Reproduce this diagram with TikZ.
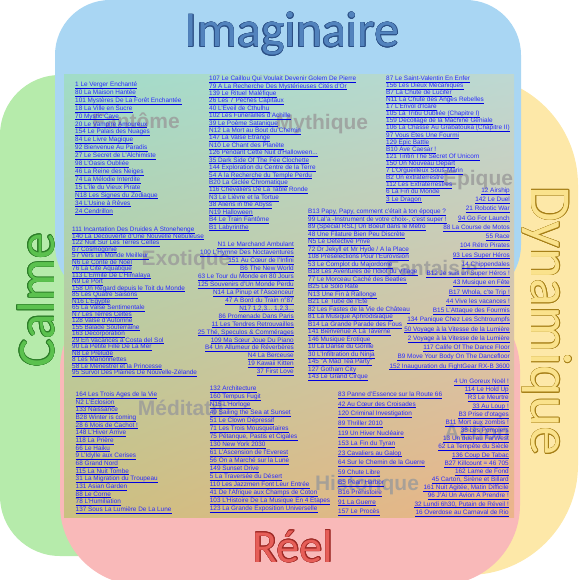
\documentclass[tikz,border=0pt]{standalone}
\usepackage{fontspec}
\setmainfont{Liberation Sans}
\newfontfamily\titlefont{Carlito}
\usetikzlibrary{shadings}
\newcommand\tdots{...}
\definecolor{bandblue}{HTML}{A9D6F3}
\definecolor{bandgreen}{HTML}{B6EBAB}
\definecolor{bandyellow}{HTML}{FDE8A8}
\definecolor{bandpink}{HTML}{F9B9B9}
\definecolor{cUL}{HTML}{A0DCC8}
\definecolor{cUR}{HTML}{BED8D2}
\definecolor{cLL}{HTML}{CAC080}
\definecolor{cLR}{HTML}{ECB48A}
\definecolor{linkblue}{HTML}{2A2AFF}
\definecolor{ulblue}{HTML}{0000E0}
\definecolor{tImag}{HTML}{5283BD}
\definecolor{oImag}{HTML}{2B4F85}
\definecolor{tCalme}{HTML}{5BC14E}
\definecolor{oCalme}{HTML}{2C7D28}
\definecolor{tDyn}{HTML}{FAE28C}
\definecolor{oDyn}{HTML}{A57E16}
\definecolor{tReel}{HTML}{E65E58}
\definecolor{oReel}{HTML}{9E2A26}
\definecolor{catgray}{HTML}{9A9A9A}
\begin{document}
\begin{tikzpicture}[x=1pt,y=-1pt,
  entry/.style={font=\fontsize{6.4}{7}\selectfont, text=linkblue, inner sep=0pt,
    text height=4.6pt, text depth=1.4pt},
  ul/.style={draw=ulblue, line width=0.7pt},
  cat/.style={font=\bfseries\fontsize{21}{21}\selectfont, text=catgray, text opacity=0.8, inner sep=0pt},
  title/.style={font=\titlefont\fontsize{#1}{#1}\selectfont, inner sep=0pt}]
\useasboundingbox (0,0) rectangle (578,580);
% background bands
\fill[bandgreen, rounded corners=60] (0,75) rectangle (300,556);
\fill[bandyellow, rounded corners=110] (280,75) rectangle (578,575);
\fill[bandblue, rounded corners=55] (55,0) rectangle (521,300);
\fill[bandpink, rounded corners=80] (60,290) rectangle (520,585);
\shade[upper left=cUL, upper right=cUR, lower left=cLL, lower right=cLR] (64,75) rectangle (514,517);
% titles (outline copies, then fill)
\foreach \a in {0,30,...,330}{
  \node[title=50, text=oImag, anchor=base, shift={(\a:0.5)}] (imagO\a) at (292,47) {Imaginaire};
  \node[title=53, text=oCalme, rotate=90, shift={(\a:0.5)}] (calmeO\a) at (36,300) {Calme};
  \node[title=58, text=oDyn, rotate=-90, shift={(\a:0.5)}] (dynO\a) at (547,321) {Dynamique};
  \node[title=46, text=oReel, anchor=base, shift={(\a:0.5)}] (reelO\a) at (293,562) {Réel};
}
\node[title=50, text=tImag, anchor=base] (imag) at (292,47) {Imaginaire};
\node[title=53, text=tCalme, rotate=90] (calme) at (36,300) {Calme};
\node[title=58, text=tDyn, rotate=-90] (dyn) at (547,321) {Dynamique};
\node[title=46, text=tReel, anchor=base] (reel) at (293,562) {Réel};
% category labels
\node[cat] (c1) at (136,121) {Fantôme};
\node[cat] (c2) at (322,124) {Mythique};
\node[cat] (c3) at (478,180) {Epique};
\node[cat] (c4) at (186,260) {Exotique};
\node[cat] (c5) at (432,268) {Fantaisie};
\node[cat] (c6) at (181,408) {Méditatif};
\node[cat] (c7) at (367,485) {Historique};
\node[cat] (c8) at (477,432) {Action};
% column A1
\foreach \t [count=\i] in {{1 Le Verger Enchanté},{80 La Maison Hantée},{101 Mystères De La Forêt Enchantée},{18 La Ville en Sucre},{70 Mystic Cave},{20 Le Vampire Amoureux},{154 Le Palais des Nuages},{84 Le Livre Magique},{92 Bienvenue Au Paradis},{27 Le Secret de L'Alchimiste},{98 L'Oasis Oubliée},{46 La Reine des Neiges},{74 La Mélodie Interdite},{15 L'île du Vieux Pirate},{N18 Les Signes du Zodiaque\ },{34 L'Usine à Rêves},{24 Cendrillon}}{
  \node[entry, anchor=west] (a\i) at (75,{85+(\i-1)*7.9}) {\t};
  \draw[ul] (a\i.south west) -- (a\i.south east);
}
% column A2
\foreach \t [count=\i] in {{111 Incantation Des Druides A Stonehenge},{140 La Découverte d'Une Nouvelle Nébuleuse},{122 Nuit Sur Les Terres Celtes},{67 Cosmogonie},{57 Vers un Monde Meilleur},{N6 Le Conte de Noël},{76 La Cité Aquatique},{113 L'Ermite De L'Himalaya},{N9 Le Port},{158 Un Regard depuis le Toit du Monde},{85 Les Quatre Saisons},{N16 L'Egypte},{65 La Valse Sentimentale},{N7 Les Terres Celtes},{128 Valse d'Automne},{155 Balade Souterraine},{163 Décorporation},{29 En Vacances à Costa del Sol},{90 La Petite Fille De La Mer},{N8 Le Prélude},{8 Les Marionnettes},{58 Le Ménestrel et la Princesse},{95 Survol Des Plaines De Nouvelle-Zélande}}{
  \node[entry, anchor=west] (b\i) at (72,{230+(\i-1)*6.5}) {\t};
  \draw[ul] (b\i.south west) -- (b\i.south east);
}
% column A3
\foreach \t [count=\i] in {{164 Les Trois Ages de la Vie},{N2 L'Eclosion},{133 Naissance},{B28 Winter is coming},{28 6 Mois de Cachot !},{148 L'Hiver Arrive},{118 La Prière},{66 Le Haiku},{9 L'Idylle aux Cerises},{68 Grand Nord},{115 La Nuit Tombe},{31 La Migration du Troupeau},{131 Asian Garden},{88 Le Corne},{78 L'Humiliation},{137 Sous La Lumière De La Lune}}{
  \node[entry, anchor=west] (c\i) at (75.5,{395+(\i-1)*7.65}) {\t};
  \draw[ul] (c\i.south west) -- (c\i.south east);
}
% column B1
\foreach \t [count=\i] in {{107 Le Caillou Qui Voulait Devenir Golem De Pierre},{79 A La Recherche Des Mystérieuses Cités d'Or},{139 Le Rituel Maléfique},{26 Les 7 Péchés Capitaux},{40 L'Eveil de Cthulhu},{102 Les Funérailles d'Achille},{39 Le Poème Satanique},{N12 La Mort au Bout du Chemin},{147 La Valse Etrange},{N10 Le Chant des Planète},{126 Pendant Cette Nuit d'Halloween\tdots},{35 Dark Side Of The Fée Clochette},{144 Exploration du Centre de la Terre},{54 A la Recherche du Temple Perdu},{B20 La Giclée Chromatique},{116 Chevaliers De La Table Ronde},{N3 Le Lièvre et la Tortue},{38 Aliens in the Abyss},{N19 Halloween\ },{B4 Le Train Fantôme},{B1 Labyrinthe}}{
  \node[entry, anchor=west] (d\i) at (209,{79+(\i-1)*7.42}) {\t};
  \draw[ul] (d\i.south west) -- (d\i.south east);
}
% column B2 (right aligned)
\foreach \t [count=\i] in {{N1 Le Marchand Ambulant\ },{100 L'Hymne Des Noctaventures},{151 Au Cœur de l'Infini},{B6 The New World},{63 Le Tour du Monde en 80 Jours},{125 Souvenirs d'Un Monde Perdu},{N14 La Pinup et l'Ascenceur\ },{47 A Bord du Train n°87},{N17 1,2,3\tdots\ 1,2,3\tdots},{86 Promenade Dans Paris},{11 Les Tendres Retrouvailles},{25 Thé, Speculos \& Commérages},{109 Ma Sœur Joue Du Piano},{B4 Un Allumeur de Réverbères},{N4 La Berceuse\ },{19 Kawaii Kitten},{37 First Love}}{
  \node[entry, anchor=east] (e\i) at (294,{245+(\i-1)*7.95}) {\t};
  \draw[ul] (e\i.south west) -- (e\i.south east);
}
% column B3
\foreach \t [count=\i] in {{132 Architecture},{160 Tempus Fugit},{N15 L'Horloge\ },{49 Sailing the Sea at Sunset},{51 Le Clown Dépressif},{71 Les Trois Mousquetaires},{75 Pétanque, Pastis et Cigales},{130 New York 2030},{61 L'Ascension de l'Everest},{56 On a Marché sur la Lune},{149 Sunset Drive},{5 La Traversée du Désert},{110 Les Jazzmen Font Leur Entrée},{41 De l'Afrique aux Champs de Coton},{103 L'Histoire De La Musique En 4 Etapes},{123 La Grande Exposition Universelle}}{
  \node[entry, anchor=west] (f\i) at (209.7,{389+(\i-1)*8.02}) {\t};
  \draw[ul] (f\i.south west) -- (f\i.south east);
}
% column C1
\foreach \t [count=\i] in {{87 Le Saint-Valentin En Enfer},{156 Les Dieux Mécaniques},{B7 La Chute de Lucifer},{N11 La Chute des Anges Rebelles\ },{17 L'Envol d'Icare},{105 La Tribu Oubliée (Chapitre I)},{159 Décollage de la Machine Géniale},{106 La Chasse Au Grabatouka (Chapitre II)},{97 Vous Etes Une Fourmi},{129 Epic Battle},{B10 Ave Caesar !},{121 Tintin The Secret Of Unicorn},{150 Un Nouveau Départ},{7 L'Orgueilleux Sous-Marin},{B2 Un extraterrestre},{112 Les Extraterrestres},{6 La Fin du Monde},{3 Le Dragon}}{
  \node[entry, anchor=west] (g\i) at (386,{78.7+(\i-1)*7.1}) {\t};
  \draw[ul] (g\i.south west) -- (g\i.south east);
}
% column C2 (right aligned)
\foreach \t [count=\i] in {{12 Airship},{142 Le Duel},{21 Robotic War},{94 Go For Launch},{88 La Course de Motos},{55 Race},{104 Rétro Pirates},{93 Les Super Héros},{14 Chippendales},{B12 Je suis un Super Héros !},{43 Musique en Fête},{B17 Whola, c'te Trip !},{44 Vive les vacances !},{B15 L'Attaque des Fourmis},{134 Panique Chez Les Schtroumpfs},{50 Voyage à la Vitesse de la Lumière},{2 Voyage à la Vitesse de la Lumière},{117 Calife Of The Dance Floor},{B9 Move Your Body On The Dancefloor},{152 Inauguration du FightGear RX-B 3600}}{
  \node[entry, anchor=east] (h\i) at (510,{190.7+(\i-1)*9.26}) {\t};
  \draw[ul] (h\i.south west) -- (h\i.south east);
}
% column C middle
\foreach \t [count=\i] in {{B13 Papy, Papy, comment c'était à ton époque ?},{99 Lal'a -Instrument de votre choix-, c'est super !},{89 (Spécial RSL) Un Boeuf dans le Métro},{48 Une Filature Bien Peu Discrète},{N5 Le Détective Privé\ },{72 Dr Jekyll et Mr Hyde / A la Place},{108 Présélections Pour l'Eurovision},{53 Le Complot du Majordome},{B18 Les Aventures de l'Idiot du Village},{77 Le Morceau Caché des Beatles},{B25 Le Solo Raté},{N13 Une Fin à Rallonge\ },{B21 Le Tube de l'Eté},{82 Les Fastes de la Vie de Château},{81 La Musique Aphrodisiaque},{B14 La Grande Parade des Fous},{141 Bienvenue A La Taverne},{146 Musique Erotique},{10 La Danse du Gorille},{30 L'Infiltration du Ninja},{145 "A Mad Tea Party"},{127 Gotham City},{143 Le Grand Cirque}}{
  \node[entry, anchor=west] (k\i) at (308,{212.3+(\i-1)*7.5}) {\t};
  \draw[ul] (k\i.south west) -- (k\i.south east);
}
% column C3
\foreach \t [count=\i] in {{83 Panne d'Essence sur la Route 66},{42 Au Cœur des Croisades},{120 Criminal Investigation},{89 Thriller 2010},{119 Un Hiver Nucléaire},{153 La Fin du Tyran},{23 Cavaliers au Galop},{64 Sur le Chemin de la Guerre},{59 Chute Libre},{B5 Pearl Harbor},{B16 Préhistoire},{91 La Guerre},{157 Le Procès}}{
  \node[entry, anchor=west] (m\i) at (338,{394.7+(\i-1)*9.8}) {\t};
  \draw[ul] (m\i.south west) -- (m\i.south east);
}
% column C4 (right aligned)
\foreach \t [count=\i] in {{4 Un Goreux Noël !},{114 Le Hold Up},{R3 Le Meurtre},{33 Au Loup !},{B3 Prise d'otages},{B11 Mort aux zombis !},{38 Les Pompiers},{13 Un duel au FarWest},{62 La Tempête du Siècle},{136 Coup De Tabac},{B27 Killcount = 46 705},{162 Lame de Fond},{45 Carton, Sirène et Billard},{161 Nuit Agitée, Matin Difficile},{96 J'Ai Un Avion A Prendre !},{32 Lundi 6h30, Putain de Réveil !},{16 Overdose au Carnaval de Rio}}{
  \node[entry, anchor=east] (p\i) at (509,{382+(\i-1)*8.17}) {\t};
  \draw[ul] (p\i.south west) -- (p\i.south east);
}
\end{tikzpicture}
\end{document}
